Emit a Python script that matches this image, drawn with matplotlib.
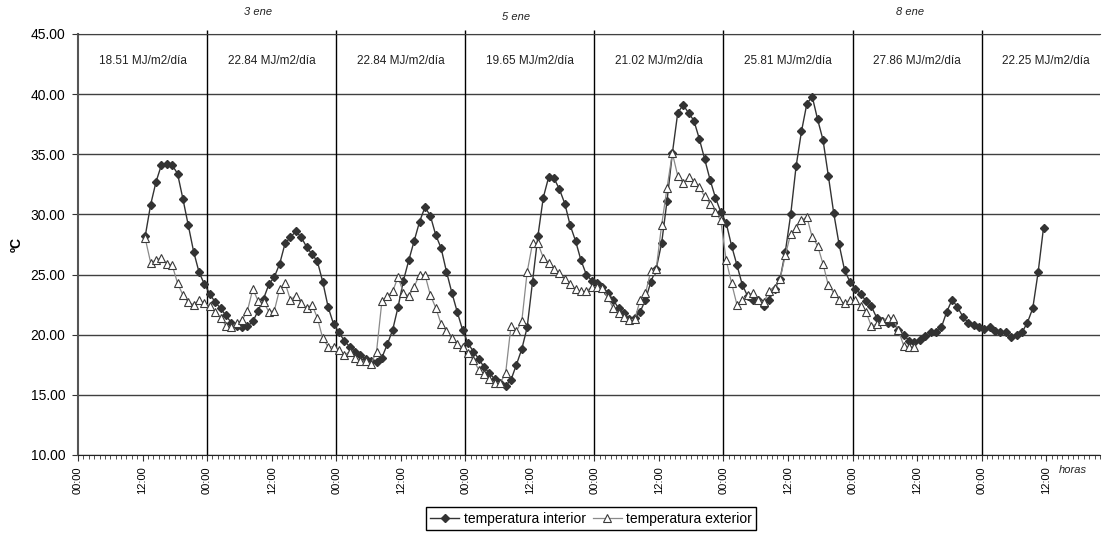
import numpy as np
import matplotlib.pyplot as plt
import matplotlib.transforms as mtransforms
from matplotlib.ticker import MultipleLocator, FuncFormatter, FormatStrFormatter

plt.rcParams['font.family'] = ['Liberation Sans', 'DejaVu Sans']

# hourly readings, the first one is at 12:00 of day 1
START_HOUR = 12

interior = [
    28.2, 30.8, 32.7, 34.1, 34.2, 34.1, 33.4, 31.3, 29.1, 26.9, 25.2, 24.2,
    23.4, 22.7, 22.2, 21.6, 21.0, 20.7, 20.6, 20.7, 21.1, 22.0, 23.0, 24.2,
    24.8, 25.9, 27.6, 28.1, 28.6, 28.1, 27.3, 26.7, 26.1, 24.4, 22.3, 20.9,
    20.2, 19.5, 19.0, 18.6, 18.3, 18.0, 17.8, 17.7, 18.1, 19.2, 20.4, 22.3,
    24.5, 26.2, 27.8, 29.4, 30.6, 29.9, 28.3, 27.2, 25.25, 23.5, 21.9, 20.4,
    19.3, 18.6, 18.0, 17.3, 16.8, 16.3, 16.0, 15.75, 16.25, 17.5, 18.8, 20.6,
    24.4, 28.2, 31.4, 33.1, 33.0, 32.1, 30.9, 29.1, 27.8, 26.2, 25.0, 24.5,
    24.3, 24.0, 23.5, 22.9, 22.2, 21.8, 21.3, 21.4, 21.9, 22.9, 24.4, 25.5,
    27.6, 31.1, 35.1, 38.45, 39.1, 38.45, 37.8, 36.3, 34.6, 32.9, 31.4, 30.2,
    29.3, 27.4, 25.8, 24.15, 23.2, 22.9, 22.9, 22.4, 22.9, 23.8, 24.6, 26.9,
    30.0, 34.0, 36.9, 39.2, 39.8, 37.9, 36.2, 33.2, 30.1, 27.5, 25.4, 24.4,
    23.8, 23.4, 22.8, 22.35, 21.4, 21.1, 21.0, 21.0, 20.4, 20.0, 19.5, 19.4,
    19.6, 19.9, 20.2, 20.2, 20.6, 21.9, 22.9, 22.3, 21.5, 21.0, 20.8, 20.6,
    20.5, 20.6, 20.3, 20.2, 20.2, 19.8, 19.95, 20.2, 21.0, 22.2, 25.2, 28.9,
]

exterior = [
    28.0, 26.0, 26.2, 26.4, 25.9, 25.8, 24.3, 23.3, 22.7, 22.5, 22.9, 22.6,
    22.4, 21.9, 21.4, 20.75, 20.6, 21.0, 21.2, 22.0, 23.8, 22.8, 22.7, 21.9,
    22.0, 23.8, 24.3, 22.9, 23.25, 22.6, 22.2, 22.5, 21.4, 19.7, 19.0, 19.0,
    18.7, 18.3, 18.6, 18.1, 17.8, 17.8, 17.6, 18.6, 22.8, 23.2, 23.6, 24.8,
    23.5, 23.2, 24.0, 25.0, 25.0, 23.3, 22.25, 20.9, 20.3, 19.7, 19.2, 19.0,
    18.5, 17.9, 17.1, 16.7, 16.3, 16.0, 16.0, 16.8, 20.75, 20.3, 21.1, 25.2,
    27.6, 27.6, 26.4, 26.0, 25.5, 25.1, 24.6, 24.2, 23.8, 23.6, 23.6, 24.0,
    24.0, 23.85, 23.1, 22.2, 21.8, 21.5, 21.2, 21.3, 22.85, 23.45, 25.3, 25.5,
    29.1, 32.2, 35.1, 33.2, 32.6, 33.1, 32.7, 32.25, 31.5, 30.9, 30.2, 29.5,
    26.2, 24.3, 22.5, 22.85, 23.3, 23.45, 22.9, 22.7, 23.65, 23.9, 24.6, 26.6,
    28.4, 28.9, 29.5, 29.8, 28.1, 27.4, 25.9, 24.1, 23.5, 22.9, 22.6, 22.9,
    22.9, 22.35, 21.9, 20.7, 20.9, 21.1, 21.4, 21.4, 20.4, 19.1, 19.0, 19.0,
]

# daily solar radiation, one per day
radiation = ['18.51', '22.84', '22.84', '19.65', '21.02', '25.81', '27.86', '22.25']

# date marks above the plot (day index counted from 0)
date_labels = ['3 ene', '5 ene', '8 ene']
date_days = [1, 3, 6]

N_HOURS = 190

# Excel category axis: each point sits in the middle of its hour slot
x_in = np.arange(START_HOUR, START_HOUR + len(interior)) + 0.5
x_ex = np.arange(START_HOUR, START_HOUR + len(exterior)) + 0.5

W, H = 1102, 534
fig = plt.figure(figsize=(W / 100, H / 100), dpi=100)
ax = fig.add_axes([78 / W, 1 - 455 / H, (1100 - 78) / W, (455 - 34) / H])

ax.plot(x_in, interior, color='#333333', lw=1.0, marker='D', ms=3.7,
        mfc='#333333', mec='#333333', label='temperatura interior', zorder=3)
ax.plot(x_ex, exterior, color='#8a8a8a', lw=0.9, marker='^', ms=5.6,
        mfc='white', mec='#3a3a3a', mew=0.8, label='temperatura exterior', zorder=4)

ax.set_xlim(0, N_HOURS)
ax.set_ylim(10, 45)

ax.set_yticks(np.arange(10, 46, 5))
ax.yaxis.set_major_formatter(FormatStrFormatter('%.2f'))
ax.grid(axis='y', color='#404040', lw=1.0, zorder=1)

ax.xaxis.set_major_locator(MultipleLocator(12))
ax.xaxis.set_minor_locator(MultipleLocator(1))
ax.xaxis.set_major_formatter(FuncFormatter(lambda v, p: f'{int(round(v)) % 24:02d}:00'))

ax.tick_params(axis='x', which='major', length=4, pad=4, labelrotation=90,
               labelsize=8, color='#333333')
ax.tick_params(axis='x', which='minor', length=3, color='#333333')
ax.tick_params(axis='y', length=4, pad=5, labelsize=10, color='#333333')

ax.spines['right'].set_visible(False)
ax.spines['top'].set_color('#404040')
ax.spines['left'].set_color('#555555')
ax.spines['left'].set_linewidth(1.5)
ax.spines['bottom'].set_color('#222222')

# day separators
trans = mtransforms.blended_transform_factory(ax.transData, ax.transAxes)
day_edges = np.arange(24, N_HOURS, 24)
ax.vlines(day_edges, 0, 1.01, transform=trans, color='black', lw=1.0,
          clip_on=False, zorder=2)

for d, val in enumerate(radiation):
    ax.text(d * 24 + 12, 42.75, f'{val} MJ/m2/día', ha='center', va='center',
            fontsize=8.5, color='#222222')

# the date marks are not quite aligned in the original
label_place = [(9.5, 1.052), (9.5, 1.040), (10.7, 1.052)]
for day, lab, (dx, ty) in zip(date_days, date_labels, label_place):
    ax.text(day * 24 + dx, ty, lab, transform=trans, ha='center', va='center',
            fontsize=8, style='italic', color='#222222')

ax.text(185, -0.035, 'horas', transform=trans, ha='center', va='center',
        fontsize=8, style='italic', color='#222222')

fig.text(17 / W, 1 - 245 / H, 'ºC', rotation=90, ha='center', va='center',
         fontsize=10, fontweight='bold')

fig.legend(loc='center', bbox_to_anchor=(591 / W, 1 - 518.5 / H), ncol=2,
           fontsize=10, frameon=True, fancybox=False, edgecolor='black',
           framealpha=1, handlelength=2.1, handletextpad=0.3, columnspacing=0.5,
           borderpad=0.3, borderaxespad=0)

fig.savefig('out.png', dpi=100)
